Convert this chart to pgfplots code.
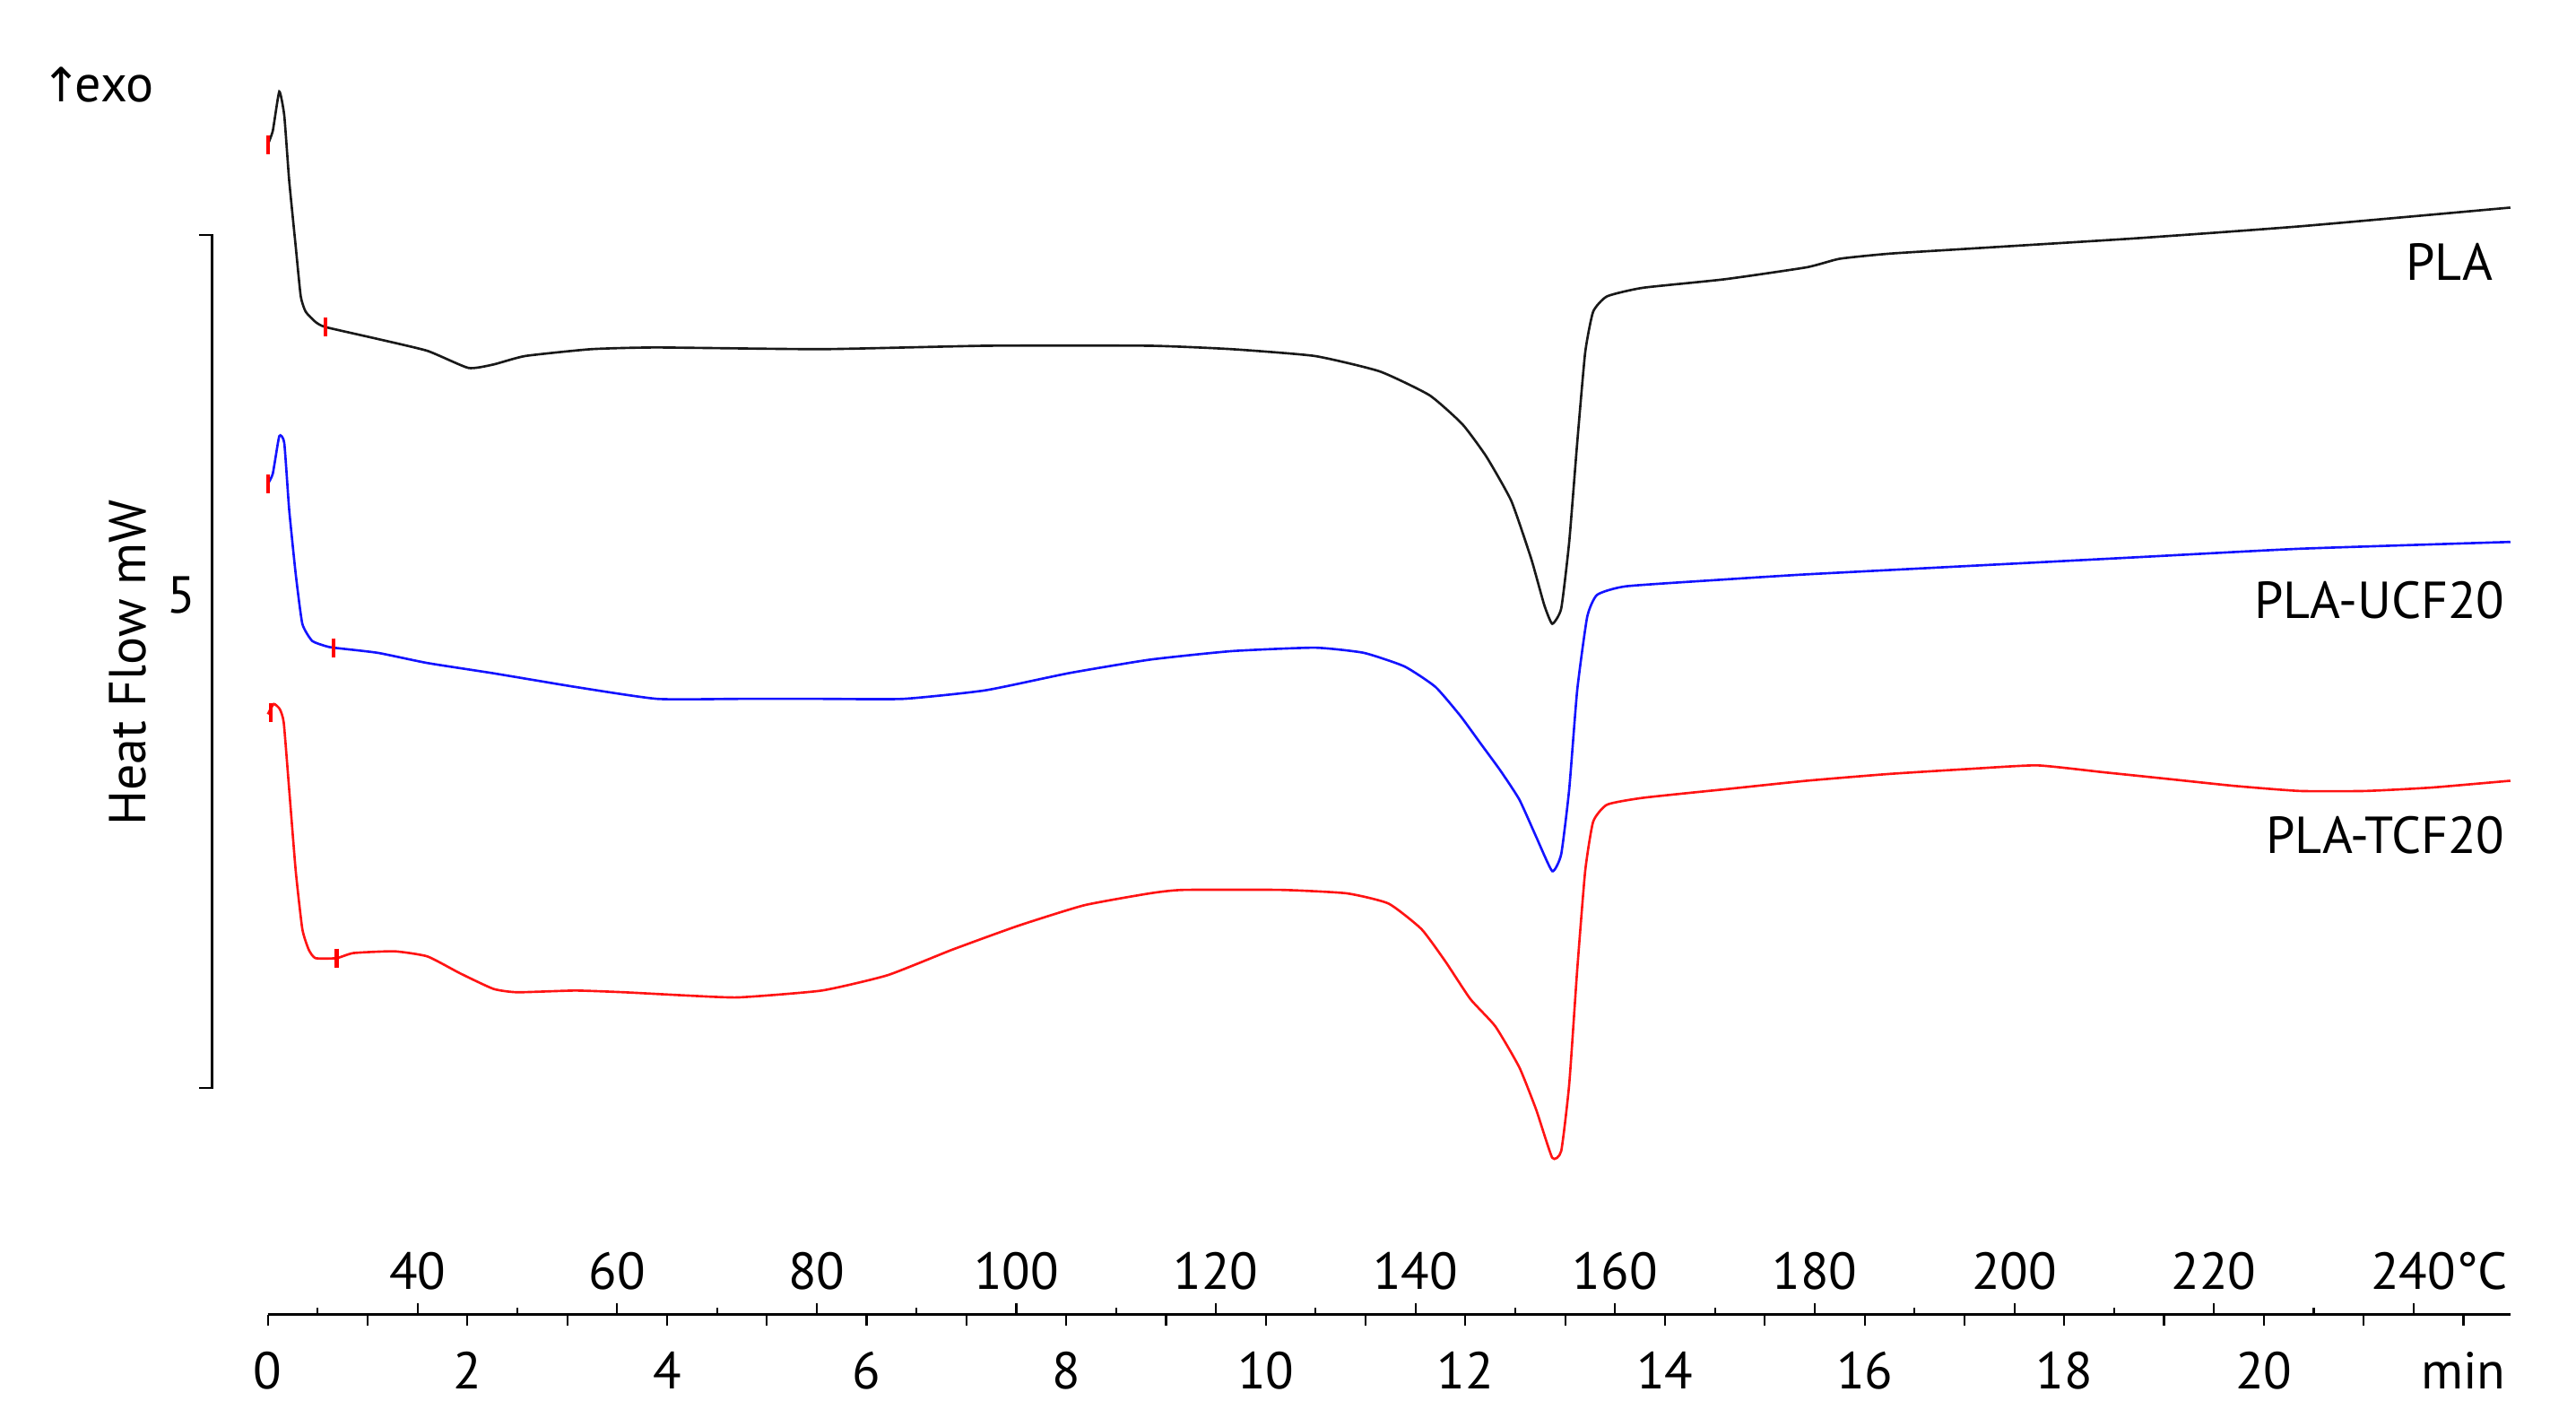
\documentclass[border=0pt]{standalone}
\usepackage{fontspec}
\setmainfont{PT Sans}
\newfontfamily\symfont{DejaVu Sans}
\usepackage{pgfplots}
\pgfplotsset{compat=1.18}
\definecolor{plablack}{RGB}{25,25,25}
\definecolor{ucfblue}{RGB}{20,20,255}
\definecolor{tcfred}{RGB}{255,20,20}

\pgfplotsset{
  dsc/.style={
    x=1.1131cm, y=1.9019cm,
    xmin=0, xmax=22.47, ymin=0, ymax=7.6,
    axis y line=none, axis x line*=bottom,
    axis line style={line width=0.8pt, -},
    clip=false,
    /pgf/number format/assume math mode=true,
    tick style={black, line width=0.6pt},
    ticklabel style={font=\fontsize{16.5}{19}\selectfont},
  }
}

\begin{document}
\fontsize{16.5}{19}\selectfont
\begin{tikzpicture}
% time axis (below the line) and the curves
\begin{axis}[dsc,
    xtick={0,2,...,22},
    xticklabels={0,2,4,6,8,10,12,14,16,18,20,min},
    minor xtick={1,3,...,21},
    tick align=outside,
    major tick length=0.12cm, minor tick length=0.12cm,
    xticklabel style={anchor=base, yshift=-0.71cm},
]
% PLA
\addplot[plablack, line width=0.75pt, smooth, tension=0.3] coordinates {
(0,6.86) (0.05,6.94) (0.115,7.17) (0.165,7.03) (0.214,6.65) (0.28,6.26)
(0.33,5.97) (0.379,5.88) (0.477,5.82) (0.576,5.79) (1.10,5.72) (1.60,5.65)
(2.01,5.55) (2.26,5.57) (2.58,5.62) (3.24,5.66) (3.90,5.67) (5.55,5.66)
(7.19,5.68) (8.84,5.68) (9.66,5.66) (10.49,5.62) (11.14,5.53) (11.64,5.39)
(11.97,5.22) (12.21,5.03) (12.46,4.77) (12.66,4.43) (12.79,4.16) (12.87,4.05)
(12.96,4.14) (13.04,4.53) (13.12,5.11) (13.20,5.64) (13.28,5.88) (13.42,5.97)
(13.78,6.02) (14.60,6.07) (15.42,6.14) (15.75,6.19) (16.25,6.22) (17.07,6.25)
(18.72,6.31) (20.36,6.38) (22.47,6.49)
};
% PLA-UCF20
\addplot[ucfblue, line width=0.75pt, smooth, tension=0.3] coordinates {
(0,4.87) (0.05,4.93) (0.115,5.15) (0.165,5.11) (0.214,4.72) (0.28,4.34)
(0.346,4.05) (0.444,3.95) (0.576,3.92) (0.658,3.91) (1.10,3.88) (1.60,3.82)
(2.26,3.76) (3.08,3.68) (3.90,3.61) (4.72,3.61) (5.55,3.61) (6.37,3.61)
(7.19,3.66) (8.02,3.76) (8.84,3.84) (9.66,3.89) (10.49,3.91) (10.98,3.88)
(11.39,3.80) (11.70,3.68) (11.95,3.51) (12.15,3.35) (12.35,3.19) (12.54,3.02)
(12.71,2.80) (12.87,2.60) (12.96,2.70) (13.04,3.08) (13.12,3.66) (13.22,4.09)
(13.32,4.22) (13.61,4.27) (14.60,4.31) (15.42,4.34) (17.07,4.39) (18.72,4.44)
(20.36,4.49) (22.47,4.53)
};
% PLA-TCF20
\addplot[tcfred, line width=0.75pt, smooth, tension=0.3] coordinates {
(0,3.52) (0.06,3.58) (0.12,3.55) (0.16,3.47) (0.214,3.08) (0.28,2.60)
(0.346,2.26) (0.41,2.14) (0.477,2.09) (0.69,2.09) (0.86,2.12) (1.27,2.13)
(1.60,2.10) (1.93,2.00) (2.26,1.91) (2.50,1.89) (3.08,1.90) (3.57,1.89)
(4.23,1.87) (4.72,1.86) (5.55,1.90) (6.21,1.99) (6.86,2.14) (7.52,2.28)
(8.18,2.40) (8.84,2.47) (9.17,2.49) (10.16,2.49) (10.81,2.47) (11.23,2.41)
(11.56,2.26) (11.80,2.07) (12.05,1.85) (12.30,1.69) (12.54,1.45) (12.71,1.20)
(12.87,0.92) (12.96,0.96) (13.04,1.35) (13.12,2.02) (13.20,2.60) (13.28,2.89)
(13.42,2.99) (13.78,3.03) (14.60,3.08) (15.42,3.13) (16.25,3.17) (17.07,3.20)
(17.73,3.22) (18.39,3.18) (19.05,3.14) (19.70,3.10) (20.36,3.07) (21.02,3.07)
(21.68,3.09) (22.47,3.13)
};
% integration limit marks
\addplot[red, only marks, mark=|, mark size=3pt, mark options={line width=1.2pt}] coordinates {
(0,6.86) (0.576,5.79) (0,4.87) (0.658,3.91) (0.03,3.53) (0.69,2.09)
};
% 5 mW scale bar
\addplot[black, line width=0.7pt] coordinates {(-0.69,6.33) (-0.56,6.33) (-0.56,1.33) (-0.69,1.33)};

\node[anchor=center] at (axis cs:-0.87,4.22) {5};
\node[rotate=90, anchor=center] at (axis cs:-1.40,3.82) {Heat Flow mW};
\node[anchor=west, inner sep=0pt] at (axis cs:-2.27,7.21) {{\symfont\fontsize{15}{18}\selectfont ↑}\kern-0.12em exo};
\node[anchor=east, inner sep=0pt] at (axis cs:22.30,6.17) {PLA};
\node[anchor=east, inner sep=0pt] at (axis cs:22.42,4.19) {PLA-UCF20};
\node[anchor=east, inner sep=0pt] at (axis cs:22.42,2.81) {PLA-TCF20};
\end{axis}
% temperature scale (ticks and labels above the line)
\begin{axis}[dsc,
    xtick={1.5,3.5,...,21.5},
    xticklabels={40,60,80,100,120,140,160,180,200,220,240\rlap{°C}},
    minor xtick={0.5,2.5,...,20.5},
    tick align=inside,
    major tick length=0.13cm, minor tick length=0.08cm,
    xticklabel style={anchor=base, yshift=0.28cm},
]
\end{axis}
\pgfresetboundingbox
\useasboundingbox (-2.987,-1.246) rectangle (25.744,14.658);
\end{tikzpicture}
\end{document}
